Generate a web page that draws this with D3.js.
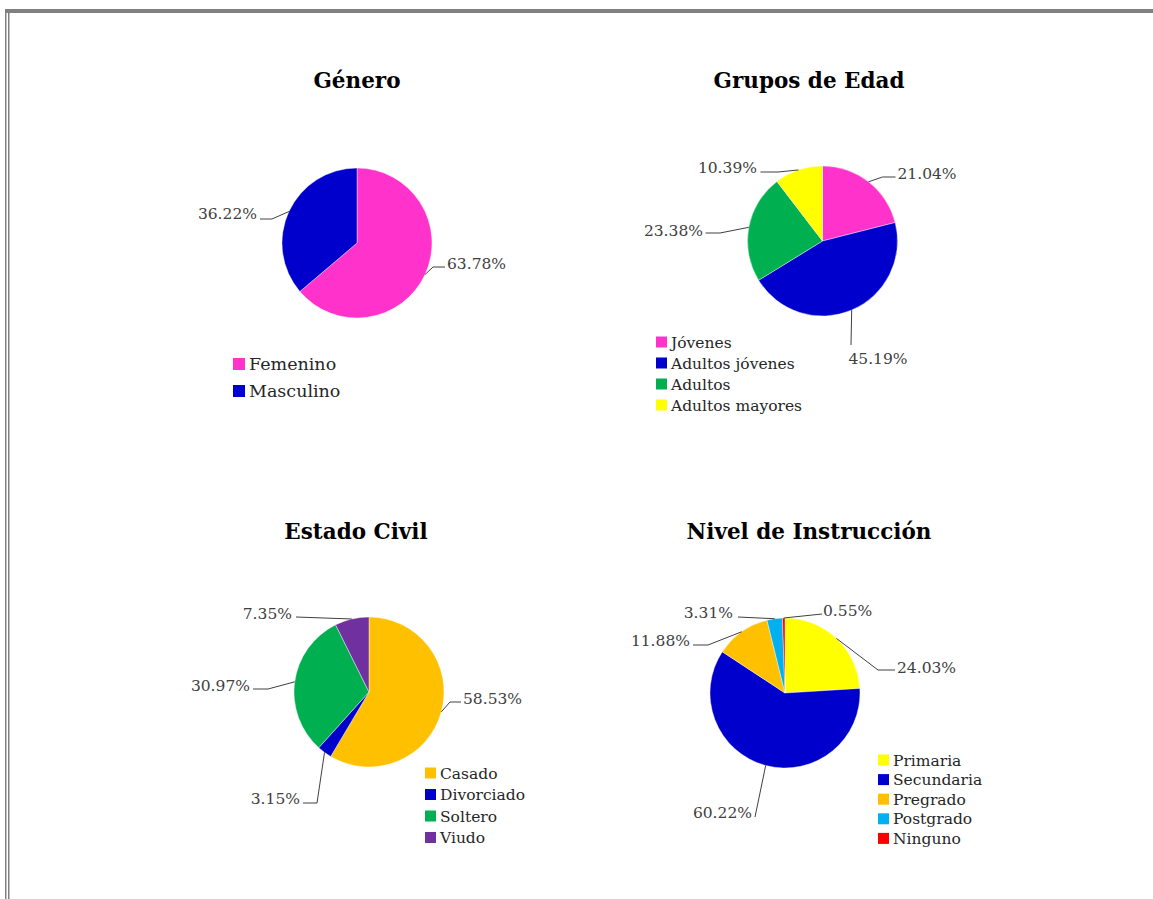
<!DOCTYPE html>
<html>
<head>
<meta charset="utf-8">
<script src="https://cdn.jsdelivr.net/npm/d3@7"></script>
<style>
  html, body { margin: 0; padding: 0; background: #fff; }
  svg { display: block; }
</style>
</head>
<body>
<svg id="chart" width="1153" height="899"></svg>
<script>
// ---- Data ----
const generoCats = ["Femenino", "Masculino"];
const generoVals = [63.78, 36.22];

const edadCats = ["Jóvenes", "Adultos jóvenes", "Adultos", "Adultos mayores"];
const edadVals = [21.04, 45.19, 23.38, 10.39];

const civilCats = ["Casado", "Divorciado", "Soltero", "Viudo"];
const civilVals = [58.53, 3.15, 30.97, 7.35];

const instrCats = ["Primaria", "Secundaria", "Pregrado", "Postgrado", "Ninguno"];
const instrVals = [24.03, 60.22, 11.88, 3.31, 0.55];

const titles = ["Género", "Grupos de Edad", "Estado Civil", "Nivel de Instrucción"];

// ---- Palette ----
const C = {
  pink: "#FF33CC", blue: "#0000CC", green: "#00B050", yellow: "#FFFF00",
  orange: "#FFC000", purple: "#7030A0", sky: "#00B0F0", red: "#FF0000"
};

const FONT = "'DejaVu Serif', 'Liberation Serif', serif";
const svg = d3.select("#chart");

// Page frame
svg.append("rect").attr("x", 5).attr("y", 9).attr("width", 1148).attr("height", 4).attr("fill", "#808080");
svg.append("rect").attr("x", 5).attr("y", 9).attr("width", 1.5).attr("height", 890).attr("fill", "#808080");
svg.append("rect").attr("x", 8).attr("y", 13).attr("width", 1.5).attr("height", 886).attr("fill", "#808080");

// Layout of each panel: pie centre, radius, title position, legend box,
// and per-slice label placement [elbowDx, elbowDy, endDx, textDx, baselineDy, anchor]
const panels = [
  {
    cats: generoCats, vals: generoVals, colors: [C.pink, C.blue],
    title: titles[0], tx: 357, ty: 88,
    cx: 357, cy: 243, r: 75,
    legend: { x: 233, y: 364, dy: 27, sq: 12, fs: 17.5 },
    labels: [
      [76, 24, 88, 90, 26, "start"],
      [-85, -24, -97, -100, -24, "end"]
    ]
  },
  {
    cats: edadCats, vals: edadVals, colors: [C.pink, C.blue, C.green, C.yellow],
    title: titles[1], tx: 809, ty: 88,
    cx: 822.5, cy: 241, r: 75,
    legend: { x: 656, y: 342, dy: 21, sq: 11, fs: 15.5 },
    labels: [
      [60, -64, 73, 75, -62, "start"],
      [28.5, 104, 28.5, 55.5, 123, "middle"],
      [-102.5, -8, -117, -119.5, -5, "end"],
      [-44.5, -69, -62, -65.5, -68, "end"]
    ]
  },
  {
    cats: civilCats, vals: civilVals, colors: [C.orange, C.blue, C.green, C.purple],
    title: titles[2], tx: 356, ty: 539,
    cx: 369, cy: 692, r: 75,
    legend: { x: 425, y: 773, dy: 21.5, sq: 11, fs: 15.5 },
    labels: [
      [81, 10, 92, 94, 12, "start"],
      [-52, 111, -66, -69, 112, "end"],
      [-101, -3, -116, -119, -1, "end"],
      [-73, -75, -73, -77, -73, "end"]
    ]
  },
  {
    cats: instrCats, vals: instrVals, colors: [C.yellow, C.blue, C.orange, C.sky, C.red],
    title: titles[3], tx: 809, ty: 539,
    cx: 785, cy: 693, r: 75,
    legend: { x: 878, y: 760, dy: 19.6, sq: 11, fs: 15.5 },
    labels: [
      [93, -23, 110, 112, -20, "start"],
      [-30, 124, -30, -33, 125, "end"],
      [-77, -48, -92, -95, -47, "end"],
      [-47, -76, -47, -52, -75, "end"],
      [37, -79, 37, 38, -77, "start"]
    ]
  }
];

const pie = d3.pie().sort(null).value(d => d);

panels.forEach(p => {
  const g = svg.append("g");

  // Title
  g.append("text")
    .attr("x", p.tx).attr("y", p.ty)
    .attr("text-anchor", "middle")
    .attr("font-family", FONT).attr("font-weight", "bold")
    .attr("font-size", 21.5).attr("fill", "#000")
    .text(p.title);

  const arcs = pie(p.vals);
  const arc = d3.arc().innerRadius(0).outerRadius(p.r);
  const color = d3.scaleOrdinal().domain(p.cats).range(p.colors);

  const pg = g.append("g").attr("transform", `translate(${p.cx},${p.cy})`);
  pg.selectAll("path").data(arcs).join("path")
    .attr("d", arc)
    .attr("fill", (d, i) => color(p.cats[i]))
    .attr("stroke", "#fff").attr("stroke-width", 0.4);

  // Leader lines and percentage labels
  arcs.forEach((d, i) => {
    const mid = (d.startAngle + d.endAngle) / 2;
    const sx = p.r * Math.sin(mid), sy = -p.r * Math.cos(mid);
    const [ex, ey, hx, tx, ty, anchor] = p.labels[i];
    pg.append("polyline")
      .attr("points", [[sx, sy], [ex, ey], [hx, ey]].map(q => q.join(",")).join(" "))
      .attr("fill", "none").attr("stroke", "#404040").attr("stroke-width", 1);
    pg.append("text")
      .attr("x", tx).attr("y", ty)
      .attr("text-anchor", anchor)
      .attr("font-family", FONT).attr("font-size", 15.5)
      .attr("fill", "#404040")
      .text(d3.format(".2f")(d.data) + "%");
  });

  // Legend
  const L = p.legend;
  const lg = g.append("g");
  p.cats.forEach((c, i) => {
    const y = L.y + i * L.dy;
    lg.append("rect")
      .attr("x", L.x).attr("y", y - L.sq / 2)
      .attr("width", L.sq).attr("height", L.sq)
      .attr("fill", color(c));
    lg.append("text")
      .attr("x", L.x + L.sq + 4).attr("y", y + L.fs * 0.36)
      .attr("font-family", FONT).attr("font-size", L.fs)
      .attr("fill", "#262626")
      .text(c);
  });
});
</script>
</body>
</html>
